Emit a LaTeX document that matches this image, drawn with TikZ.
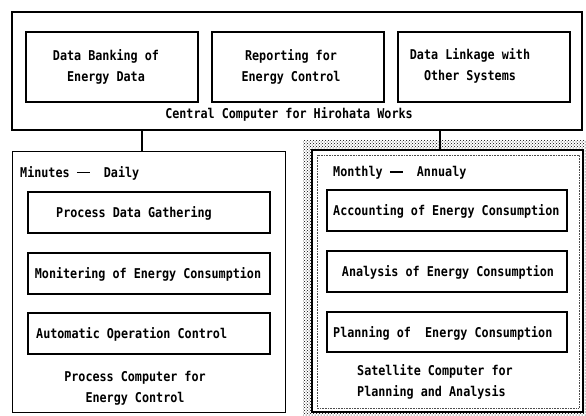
\documentclass[tikz,border=0pt]{standalone}
\usepackage{fontspec}
\newfontfamily\diag{DejaVu Sans Mono}[FakeStretch=0.87]
\usetikzlibrary{patterns}
\newcommand{\longdash}{\rule[0.3em]{13pt}{1.3pt}}
\begin{document}
\begin{tikzpicture}[x=1pt,y=-1pt,
  font=\diag\bfseries\fontsize{13.5}{21}\selectfont,
  frame/.style={draw, line width=1.3pt, inner sep=0pt},
  box/.style={draw, line width=1.1pt, inner sep=0pt},
  txt/.style={inner sep=0pt, align=center},
  conn/.style={draw, line width=1.1pt}]
\useasboundingbox (0,0) rectangle (586,415);
% central computer
\node[frame, minimum width=570pt, minimum height=118pt] (top) at (297,71) {};
\node[box, minimum width=172pt, minimum height=70pt] (d1) at (112,67) {};
\node[box, minimum width=172pt, minimum height=70pt] (d2) at (298,67) {};
\node[box, minimum width=172pt, minimum height=70pt] (d3) at (484,67) {};
\node[txt] (t1) at (106,67) {Data Banking of\\Energy Data};
\node[txt] (t2) at (291,67) {Reporting for\\Energy Control};
\node[txt] (t3) at (470,66) {Data Linkage with\\Other Systems};
\node[txt] (tc) at (289,114) {Central Computer for Hirohata Works};
% process computer
\node[frame, minimum width=273pt, minimum height=261pt] (pc) at (149,282) {};
\node[txt, anchor=west] (pmin) at (20,173) {Minutes \longdash~~Daily};
\node[box, minimum width=242pt, minimum height=41pt] (p1) at (149,212.5) {};
\node[box, minimum width=242pt, minimum height=41pt] (p2) at (149,273.5) {};
\node[box, minimum width=242pt, minimum height=41pt] (p3) at (149,333.5) {};
\node[txt] (pt1) at (134,213) {Process Data Gathering};
\node[txt] (pt2) at (148,274) {Monitering of Energy Consumption};
\node[txt, anchor=west] (pt3) at (36,334) {Automatic Operation Control};
\node[txt] (pcl) at (135,388) {Process Computer for\\Energy Control};
% satellite computer
\fill[pattern=crosshatch dots, pattern color=black] (303,140) rectangle (586,415);
\node[frame, fill=white, line width=2pt, minimum width=271pt, minimum height=262pt] (sat) at (447.5,281) {};
\draw[densely dotted, black!70, line width=0.6pt] (317,155) rectangle (579,408);
\node[txt, anchor=west] (smon) at (333,173) {Monthly \longdash~~Annualy};
\node[box, minimum width=240pt, minimum height=41pt] (s1) at (447,210.5) {};
\node[box, minimum width=240pt, minimum height=41pt] (s2) at (447,271.5) {};
\node[box, minimum width=240pt, minimum height=40pt] (s3) at (447,332) {};
\node[txt, anchor=west] (st1) at (333,211) {Accounting of Energy Consumption};
\node[txt] (st2) at (448,272) {Analysis of Energy Consumption};
\node[txt, anchor=west] (st3) at (333,333) {Planning of~~Energy Consumption};
\node[txt, anchor=west, align=left] (scl) at (357,382) {Satellite Computer for\\Planning and Analysis};
% connectors
\coordinate (k1) at (142,0);
\coordinate (k2) at (440,0);
\draw[conn] (top.south -| k1) -- (pc.north -| k1);
\draw[conn] (top.south -| k2) -- (sat.north -| k2);
\end{tikzpicture}
\end{document}
